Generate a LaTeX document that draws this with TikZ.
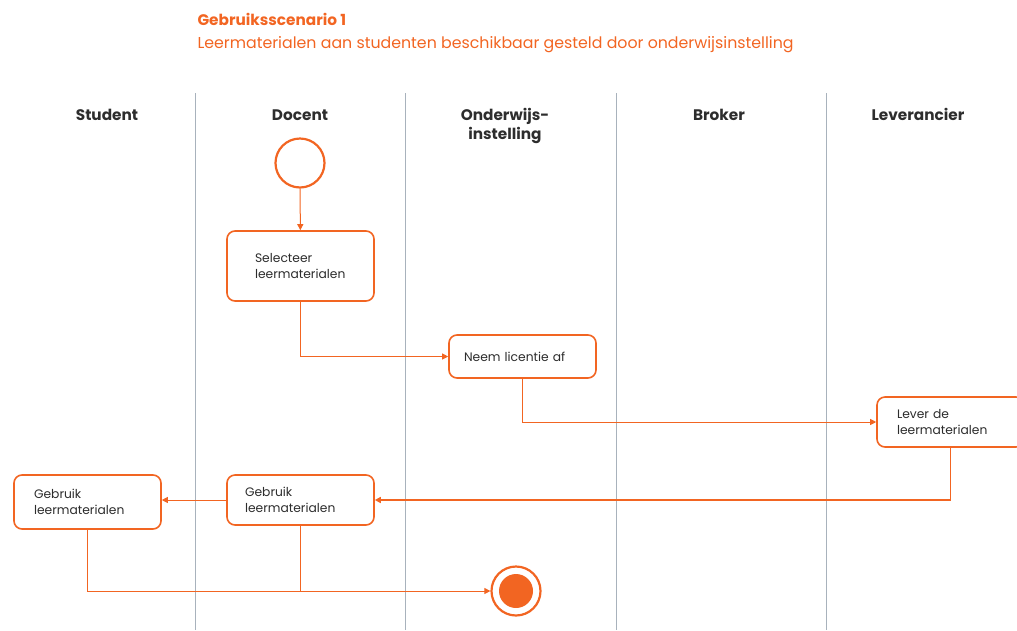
\documentclass[tikz,border=0pt]{standalone}
\usepackage{fontspec}
\setmainfont{Poppins}
\usetikzlibrary{arrows.meta, positioning, calc}
\definecolor{ScenOrange}{RGB}{242, 101, 34}
\definecolor{LaneGrey}{RGB}{168, 178, 188}
\definecolor{TextGrey}{RGB}{45, 45, 45}

\begin{document}
\begin{tikzpicture}[
            x=1pt, y=-1pt,
            lane/.style={draw=LaneGrey, line width=0.9pt},
            head/.style={font=\fontsize{15.3}{19}\selectfont\bfseries, text=TextGrey, align=center, anchor=base},
            act/.style={rectangle, rounded corners=8pt, draw=ScenOrange, line width=1.6pt, fill=white,
                        minimum width=147pt, minimum height=50pt, inner xsep=18pt, text width=111pt,
                        align=left, font=\fontsize{12.3}{16}\selectfont, text=TextGrey},
            startnode/.style={circle, draw=ScenOrange, line width=2.2pt, minimum size=49pt, inner sep=0pt},
            endnode/.style={circle, draw=ScenOrange, line width=2.2pt, minimum size=49pt, inner sep=0pt,
                            path picture={\fill[ScenOrange] (path picture bounding box.center) circle (17pt);}},
            arrow/.style={-{Triangle[length=6pt, width=6pt]}, ScenOrange, line width=1pt}
        ]
            \useasboundingbox (0,0) rectangle (1017,630);

            % Title
            \node[anchor=base west, text=ScenOrange, font=\fontsize{15.3}{18}\selectfont\bfseries] (title) at (194,25) {Gebruiksscenario 1};
            \node[anchor=base west, text=ScenOrange, font=\fontsize{15.8}{18}\selectfont] (subtitle) at (194,48) {Leermaterialen aan studenten beschikbaar gesteld door onderwijsinstelling};

            % Swimlanes
            \foreach \x in {195, 405, 616, 826}
                \draw[lane] (\x,93) -- (\x,630);
            \node[head] (hstudent) at (107,120) {Student};
            \node[head] (hdocent) at (300,120) {Docent};
            \node[head] (honderwijs) at (505,120) {Onderwijs-};
            \node[head] (honderwijs2) at (505,139) {instelling};
            \node[head] (hbroker) at (719,120) {Broker};
            \node[head] (hleverancier) at (918,120) {Leverancier};

            % Activities
            \node[startnode] (start) at (300,163) {};
            \node[act, minimum height=70pt, inner xsep=28pt, text width=91pt] (select) at (300.5,266) {Selecteer\\leermaterialen};
            \node[act, minimum height=43pt, inner xsep=15pt, text width=117pt] (licence) at (522.5,356.5) {Neem licentie af};
            \node[act, inner xsep=20pt, text width=107pt] (deliver) at (950.5,422) {Lever de\\leermaterialen};
            \node[act] (usedocent) at (300.5,500) {Gebruik\\leermaterialen};
            \node[act, minimum height=54pt, inner xsep=20pt, text width=107pt] (usestudent) at (87.5,502) {Gebruik\\leermaterialen};
            \node[endnode] (stop) at (516,591) {};

            % Arrows
            \draw[arrow] (start) -- (select);
            \draw[arrow] (select.south) |- (licence.west);
            \draw[arrow] (licence.south) |- (deliver.west);
            \draw[arrow, line width=1.5pt] (deliver.south) |- (usedocent.east);
            \draw[arrow] (usedocent.west) -- (usestudent.east |- usedocent.west);
            \draw[arrow] (usestudent.south) |- (stop.west);
            \draw[ScenOrange, line width=1pt] (usedocent.south) -- (usedocent.south |- stop.west);
        \end{tikzpicture}
\end{document}
